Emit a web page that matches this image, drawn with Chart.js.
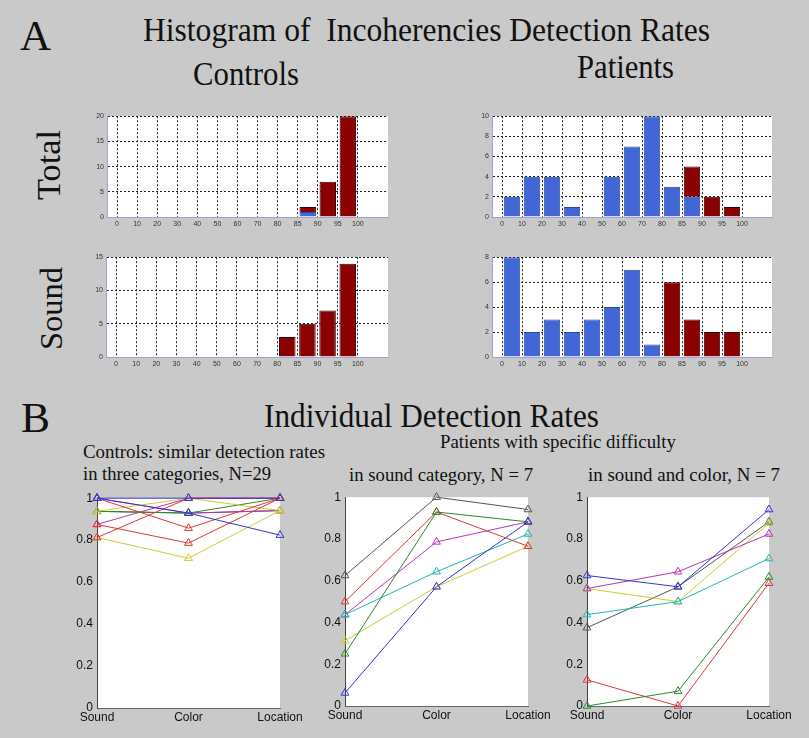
<!DOCTYPE html>
<html><head><meta charset="utf-8">
<script src="https://cdn.jsdelivr.net/npm/chart.js@4.4.0/dist/chart.umd.min.js"></script>
<style>
html,body{margin:0;padding:0;background:#c9c9c9;}
#fig{position:relative;width:809px;height:738px;overflow:hidden;background:#c9c9c9;}
canvas{position:absolute;}
.t{position:absolute;white-space:pre;font-family:'Liberation Serif','Times New Roman',serif;color:#111;line-height:1;transform-origin:0 0;}
</style></head><body><div id="fig"></div>
<script>
// ---------- DATA ----------
// Histogram bin edges (tick labels); bins lie between consecutive edges
const histBinLabels = ['0','10','20','30','40','50','60','70','80','85','90','95','100'];
// counts per bin: 0-10,10-20,...,70-80,80-85,85-90,90-95,95-100
const controlsTotalBlue = [0,0,0,0,0,0,0,0,0,1,0,0];
const controlsTotalRed  = [0,0,0,0,0,0,0,0,0,1,7,20];
const patientsTotalBlue = [2,4,4,1,0,4,7,10,3,2,0,0];
const patientsTotalRed  = [0,0,0,0,0,0,0,0,0,3,2,1];
const controlsSoundBlue = [0,0,0,0,0,0,0,0,0,0,0,0];
const controlsSoundRed  = [0,0,0,0,0,0,0,0,3,5,7,14];
const patientsSoundBlue = [8,2,3,2,3,4,7,1,0,0,0,0];
const patientsSoundRed  = [0,0,0,0,0,0,0,0,6,3,2,2];

// Individual detection rates (Sound, Color, Location)
const lineCategories = ['Sound','Color','Location'];
const controlsRates = [
  [1, 1, 1],
  [1, 0.929, 0.824],
  [1, 0.857, 1],
  [0.875, 0.786, 1],
  [0.8125, 1, 1],
  [0.8125, 0.714, 0.941],
  [0.9375, 1, 0.941],
  [0.9375, 0.929, 1],
  [1, 0.929, 0.941],
  [0.875, 1, 1],
  [0.9375, 0.929, 0.941]
];
const patientsSoundRates = [
  [0.0625, 0.571, 0.882],
  [0.25, 0.929, 0.882],
  [0.5, 0.929, 0.765],
  [0.4375, 0.643, 0.824],
  [0.4375, 0.786, 0.882],
  [0.3125, 0.571, 0.765],
  [0.625, 1.0, 0.941]
];
const patientsSoundColorRates = [
  [0.625, 0.571, 0.941],
  [0, 0.071, 0.618],
  [0.125, 0, 0.588],
  [0.4375, 0.5, 0.706],
  [0.5625, 0.643, 0.824],
  [0.5625, 0.5, 0.875],
  [0.375, 0.571, 0.882]
];

// ---------- STYLE ----------
const C = {blue:'#3535d0', green:'#2a8a2a', red:'#e03535', cyan:'#22b5b5', magenta:'#b535b5', yellow:'#cccc30', gray:'#555555'};
const controlsColors = [C.blue, C.blue, C.red, C.red, C.red, C.yellow, C.yellow, C.green, C.magenta, C.magenta, C.gray];
const patientColors = [C.blue, C.green, C.red, C.cyan, C.magenta, C.yellow, C.gray];

Chart.defaults.font.family = "'Liberation Sans', Arial, sans-serif";
const fig = document.getElementById('fig');

const plotBg = {id:'plotBg', beforeDraw(chart){
  const a = chart.chartArea, ctx = chart.ctx;
  ctx.save(); ctx.fillStyle = '#ffffff'; ctx.fillRect(a.left, a.top, a.right - a.left, a.bottom - a.top); ctx.restore();
}};

function makeCanvas(left, top, w, h){
  const c = document.createElement('canvas');
  c.width = w; c.height = h; c.style.left = left + 'px'; c.style.top = top + 'px';
  c.style.width = w + 'px'; c.style.height = h + 'px';
  fig.appendChild(c); return c;
}

function hist(area, blue, red, yMax, yStep){
  const yW = 27, padT = 6, padR = 4, xH = 16;
  const cv = makeCanvas(area.L - yW, area.T - padT, (area.R - area.L) + yW + padR, (area.B - area.T) + padT + xH);
  const toPts = arr => arr.map((v, i) => ({x: i + 0.5, y: v === 0 ? null : v}));
  const axisCol = '#9aa6d2';
  new Chart(cv, {
    type: 'bar',
    data: {datasets: [
      {data: toPts(blue), backgroundColor: '#4366d6', borderColor: '#2f4aa6', borderWidth: 1, grouped: false, categoryPercentage: 1, barPercentage: 0.82},
      {data: toPts(red), backgroundColor: '#8b0000', borderColor: '#3a0000', borderWidth: 1, grouped: false, categoryPercentage: 1, barPercentage: 0.82}
    ]},
    options: {
      responsive: false, animation: false, events: [],
      layout: {padding: {top: padT, right: padR, left: 0, bottom: 0}},
      plugins: {legend: {display: false}, tooltip: {enabled: false}},
      scales: {
        x: {type: 'linear', min: -0.5, max: 13.5, bounds: 'data', offset: false,
            afterBuildTicks: s => { s.ticks = histBinLabels.map((_, i) => ({value: i})); s.min = -0.5; s.max = 13.5; },
            ticks: {callback: v => histBinLabels[v], font: {size: 7}, color: '#333', padding: 3, maxRotation: 0, autoSkip: false},
            grid: {color: '#222', drawTicks: false, lineWidth: 1, offset: false},
            border: {color: axisCol, dash: [2, 2]},
            afterFit: s => { s.height = xH; }},
        y: {min: 0, max: yMax, stacked: true,
            ticks: {stepSize: yStep, font: {size: 7}, color: '#333', padding: 3},
            grid: {color: c => (c.tick && c.tick.value === 0) ? 'rgba(0,0,0,0)' : '#222', drawTicks: false, lineWidth: 1},
            border: {color: axisCol, dash: [2, 2]},
            afterFit: s => { s.width = yW; }}
      }
    },
    plugins: [plotBg]
  });
}

function lines(area, series, colors){
  const yW = 30, padT = 8, padR = 28, xH = 18;
  const cv = makeCanvas(area.L - yW, area.T - padT, (area.R - area.L) + yW + padR, (area.B - area.T) + padT + xH);
  new Chart(cv, {
    type: 'line',
    data: {labels: lineCategories, datasets: series.map((vals, k) => ({
      data: vals, borderColor: colors[k], borderWidth: 1, tension: 0, fill: false, clip: false,
      pointStyle: 'triangle', pointRadius: 4.5, pointBorderColor: colors[k], pointBorderWidth: 1,
      pointBackgroundColor: 'rgba(0,0,0,0)'
    }))},
    options: {
      responsive: false, animation: false, events: [],
      layout: {padding: {top: padT, right: padR, left: 0, bottom: 0}},
      plugins: {legend: {display: false}, tooltip: {enabled: false}},
      scales: {
        x: {type: 'category', offset: false,
            grid: {display: false, drawTicks: false},
            border: {color: '#666'},
            ticks: {font: {size: 12}, color: '#111', padding: 2, maxRotation: 0, autoSkip: false},
            afterFit: s => { s.height = xH; }},
        y: {min: 0, max: 1,
            ticks: {stepSize: 0.2, callback: v => String(Math.round(v * 10) / 10), font: {size: 12}, color: '#111', padding: 4},
            grid: {display: false, drawTicks: false},
            border: {color: '#444'},
            afterFit: s => { s.width = yW; }}
      }
    },
    plugins: [plotBg]
  });
}

hist({L:107, R:388, T:115, B:217}, controlsTotalBlue, controlsTotalRed, 20, 5);
hist({L:492, R:772, T:115, B:217}, patientsTotalBlue, patientsTotalRed, 10, 2);
hist({L:106, R:388, T:256, B:357}, controlsSoundBlue, controlsSoundRed, 15, 5);
hist({L:492, R:772, T:256, B:357}, patientsSoundBlue, patientsSoundRed, 8, 2);

lines({L:97, R:280, T:495, B:708}, controlsRates, controlsColors);
lines({L:345, R:528, T:494, B:706}, patientsSoundRates, patientColors);
lines({L:587, R:769, T:494, B:706}, patientsSoundColorRates, patientColors);

// ---------- TEXT ----------
const mctx = document.createElement('canvas').getContext('2d');
function addText(str, x, base, size, width, rot){
  const el = document.createElement('div');
  el.className = 't'; el.textContent = str; el.style.fontSize = size + 'px';
  mctx.font = size + "px 'Liberation Serif'";
  const sx = width / mctx.measureText(str).width;
  if (!rot){
    el.style.left = x + 'px'; el.style.top = (base - 0.8375 * size) + 'px';
    el.style.transform = 'scaleX(' + sx + ')';
  } else {
    el.style.left = (x - 0.8375 * size) + 'px'; el.style.top = base + 'px';
    el.style.transform = 'rotate(-90deg) scaleX(' + sx + ')';
  }
  fig.appendChild(el);
}
addText('A', 20, 50, 42, 31);
addText('Histogram of  Incoherencies Detection Rates', 143, 41, 34, 567);
addText('Controls', 193, 85, 34, 106);
addText('Patients', 577, 78, 34, 97);
addText('Total', 60, 200, 34, 70, true);
addText('Sound', 62, 350, 32, 83, true);
addText('B', 21, 432, 42, 29);
addText('Individual Detection Rates', 264, 427, 34, 335);
addText('Patients with specific difficulty', 440, 448, 19, 236);
addText('Controls: similar detection rates', 83, 458, 19, 242);
addText('in three categories, N=29', 83, 480, 19, 188);
addText('in sound category, N = 7', 349, 481, 19, 184);
addText('in sound and color, N = 7', 588, 481, 19, 192);
</script></body></html>
